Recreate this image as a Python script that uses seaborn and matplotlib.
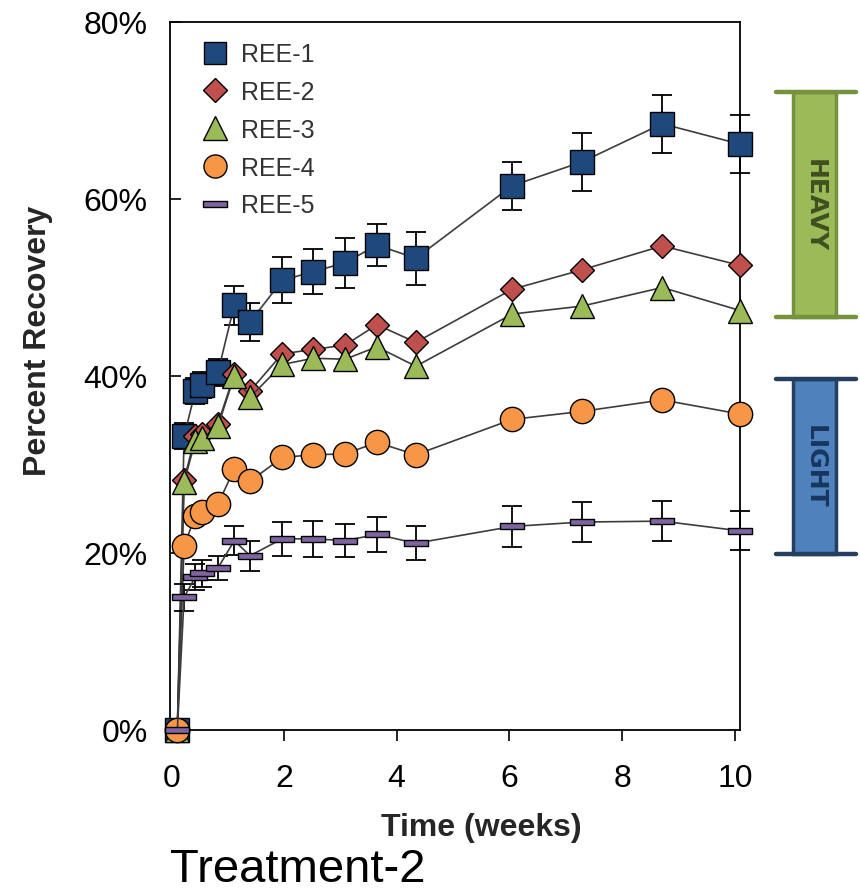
import numpy as np
import pandas as pd
import matplotlib
matplotlib.use("Agg")
import matplotlib.pyplot as plt
import seaborn as sns
from matplotlib.lines import Line2D
from matplotlib.patches import Rectangle
from matplotlib.transforms import blended_transform_factory

# ---------------- data ----------------
weeks = [0.11, 0.23, 0.43, 0.55, 0.83, 1.12, 1.40, 1.97, 2.52, 3.09, 3.65, 4.34, 6.05, 7.29, 8.71, 10.09]
ree1 = [0, 33.2, 38.3, 39.0, 40.4, 48.0, 46.1, 50.8, 51.8, 52.8, 54.8, 53.3, 61.5, 64.2, 68.5, 66.2]
ree1_err = [0, 1.5, 1.5, 1.5, 1.5, 2.2, 2.2, 2.6, 2.5, 2.8, 2.4, 3.0, 2.7, 3.3, 3.3, 3.3]
ree2 = [0, 28.3, 33.2, 33.5, 34.6, 40.2, 38.3, 42.5, 43.0, 43.5, 45.8, 43.8, 49.8, 52.0, 54.7, 52.5]
ree3 = [0, 28.0, 32.7, 33.0, 34.3, 40.0, 37.6, 41.3, 42.0, 41.9, 43.3, 41.1, 47.0, 47.9, 50.0, 47.4]
ree4 = [0, 20.8, 24.2, 24.6, 25.5, 29.5, 28.1, 30.8, 31.1, 31.2, 32.5, 31.1, 35.1, 36.0, 37.3, 35.7]
ree5 = [0, 15.0, 17.3, 17.7, 18.3, 21.4, 19.7, 21.6, 21.6, 21.4, 22.1, 21.1, 23.0, 23.5, 23.6, 22.5]
ree5_err = [0, 1.5, 1.5, 1.5, 1.4, 1.6, 1.7, 1.9, 2.0, 1.9, 2.0, 1.9, 2.3, 2.3, 2.3, 2.2]

series_names = ["REE-1", "REE-2", "REE-3", "REE-4", "REE-5"]
series_values = [ree1, ree2, ree3, ree4, ree5]
series_errors = [ree1_err, None, None, None, ree5_err]

x_ticks = [0, 2, 4, 6, 8, 10]
y_ticks = [0, 20, 40, 60, 80]

group_labels = ["HEAVY", "LIGHT"]
group_ranges = [(46.7, 72.1), (19.9, 39.7)]

# ---------------- style ----------------
colors = ["#1F497D", "#C0504D", "#9BBB59", "#F79646", "#8064A2"]
flat_rect = [(-1, -0.24), (1, -0.24), (1, 0.24), (-1, 0.24), (-1, -0.24)]
markers = ["s", "D", "^", "o", flat_rect]
msizes = [17.3, 12.6, 17.8, 17.5, 17.5]
group_face = ["#9BBB59", "#4F81BD"]
group_edge = ["#76923C", "#243F60"]
group_text = ["#3F4F20", "#17375E"]

sns.set_theme(style="ticks")
plt.rcParams["font.family"] = ["Liberation Sans", "DejaVu Sans"]

fig = plt.figure(figsize=(8.6, 8.95), dpi=100)
ax = fig.add_axes([170 / 860, 1 - 731 / 895, 570 / 860, 708 / 895])

line_color = "#3C3C3C"
for i, (name, vals) in enumerate(zip(series_names, series_values)):
    df = pd.DataFrame({"Time (weeks)": weeks, "Recovery": vals})
    err = series_errors[i]
    if err is not None:
        ax.errorbar(weeks, vals, yerr=err, fmt="none", ecolor="black",
                    elinewidth=1.3, capsize=7, capthick=1.3,
                    zorder=2 + 2 * i, clip_on=False)
    sns.lineplot(data=df, x="Time (weeks)", y="Recovery", ax=ax,
                 estimator=None, sort=False, color=line_color, linewidth=1.2,
                 marker=markers[i], markersize=msizes[i],
                 markerfacecolor=colors[i], markeredgecolor="black",
                 markeredgewidth=1.0, zorder=3 + 2 * i, clip_on=False,
                 legend=False)

ax.set_xlim(-0.02, 10.09)
ax.set_ylim(0, 80)
ax.set_xticks(x_ticks)
ax.set_xticklabels([str(t) for t in x_ticks])
ax.set_yticks(y_ticks)
ax.set_yticklabels([f"{t}%" for t in y_ticks])

for sp in ax.spines.values():
    sp.set_visible(True)
    sp.set_color("black")
    sp.set_linewidth(1.3)

ax.tick_params(axis="y", direction="in", length=8, width=1.2, pad=16,
               labelsize=23, colors="black")
ax.tick_params(axis="x", direction="out", length=8, width=1.2, pad=16,
               labelsize=23, colors="black")
ax.tick_params(axis="y", which="both", right=False)
ax.tick_params(axis="x", which="both", top=False)

ax.set_xlabel("Time (weeks)", fontsize=23, fontweight="bold")
ax.set_ylabel("Percent Recovery", fontsize=23, fontweight="bold")
ax.xaxis.set_label_coords((481 - 170) / 570, -(828 - 731) / 708)
ax.yaxis.set_label_coords(-(170 - 38) / 570, (731 - 341) / 708)
ax.xaxis.label.set_va("center")
ax.yaxis.label.set_va("center")
ax.grid(False)

# legend
handles = [Line2D([], [], linestyle="None", marker=markers[i],
                  markersize=msizes[i] * 0.95, markerfacecolor=colors[i],
                  markeredgecolor="black", markeredgewidth=1.0)
           for i in range(len(series_names))]
leg = ax.legend(handles, series_names, loc="upper left",
                bbox_to_anchor=(0.031, 0.989), frameon=False,
                fontsize=18, handlelength=1.2, handletextpad=0.45,
                labelspacing=0.55, borderpad=0.0)
for t in leg.get_texts():
    t.set_color("#333333")

# HEAVY / LIGHT brackets
trans = blended_transform_factory(ax.transAxes, ax.transData)
x_line0, x_line1 = (776 - 170) / 570, (856 - 170) / 570
x_box0, x_box1 = (793 - 170) / 570, (836 - 170) / 570
for lbl, (lo, hi), fc, ec, tc in zip(group_labels, group_ranges,
                                     group_face, group_edge, group_text):
    rect = Rectangle((x_box0, lo), x_box1 - x_box0, hi - lo, transform=trans,
                     facecolor=fc, edgecolor=ec, linewidth=2.5, clip_on=False,
                     zorder=5)
    ax.add_patch(rect)
    for yv in (lo, hi):
        ax.add_line(Line2D([x_line0, x_line1], [yv, yv], transform=trans,
                           color=ec, linewidth=3.2, clip_on=False, zorder=6))
    ax.text((x_box0 + x_box1) / 2, (lo + hi) / 2, lbl, transform=trans,
            rotation=-90, ha="center", va="center", fontsize=18,
            fontweight="bold", family=["DejaVu Sans"], color=tc,
            clip_on=False, zorder=7)

fig.text(170 / 860, 1 - 882 / 895, "Treatment-2", fontsize=34,
         ha="left", va="baseline", color="black")

fig.savefig("out.png", dpi=100, facecolor="white")
